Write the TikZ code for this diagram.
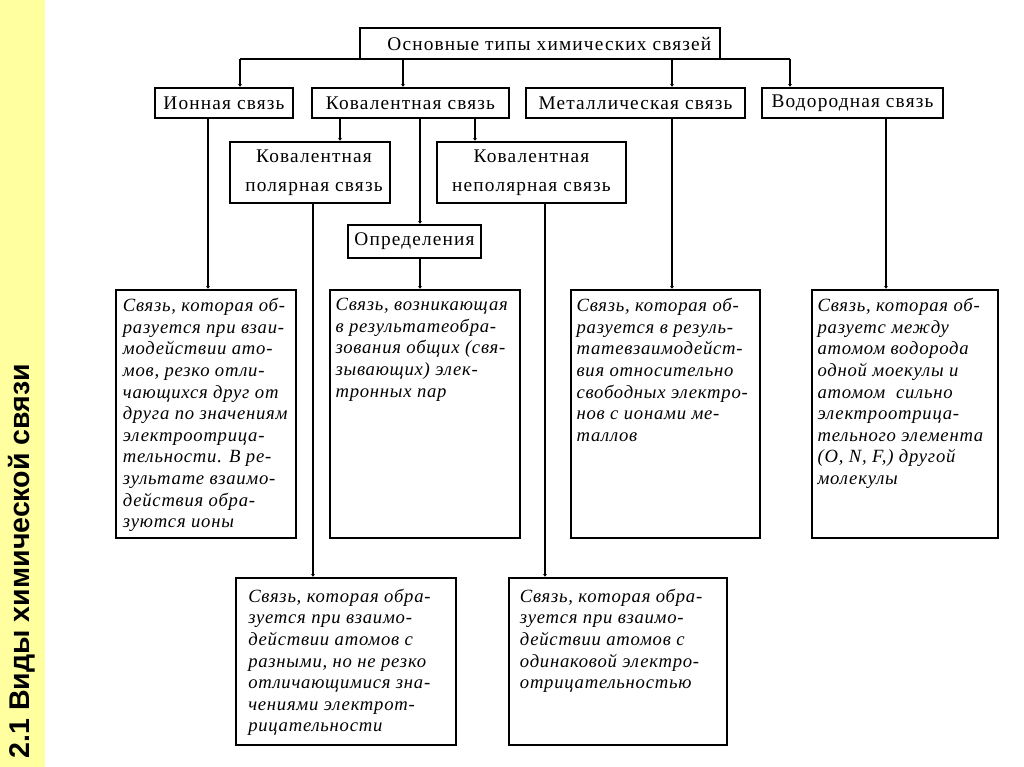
\documentclass[tikz,border=0pt]{standalone}
\usepackage{fontspec}
\setmainfont{Liberation Serif}
\newfontfamily\titlefont{Liberation Sans}
\newfontfamily\hfont[LetterSpace=6]{Liberation Serif}
\newfontfamily\ifont[LetterSpace=4]{Liberation Serif}
\usetikzlibrary{arrows.meta}
\definecolor{stripcol}{RGB}{255,255,160}
\begin{document}
\begin{tikzpicture}[x=0.75pt,y=-0.75pt,
  box/.style={draw=black, line width=2pt, inner sep=0pt, fill=white},
  sz/.style 2 args={minimum width=#1*0.75pt, minimum height=#2*0.75pt},
  hbox/.style={box, font=\hfont\fontsize{14.5}{21.5}\selectfont, align=center},
  desc/.style={anchor=north west, inner sep=0pt, align=left, font=\ifont\itshape\fontsize{14}{16.2}\selectfont},
  wire/.style={line width=2pt},
  tip/.style={wire, -{Stealth[length=2pt,width=3pt]}}]
\useasboundingbox (0,0) rectangle (1024,767);
\fill[white] (0,0) rectangle (1024,767);
\fill[stripcol] (0,0) rectangle (45,767);
\node[rotate=90, font=\titlefont\bfseries\fontsize{21.4}{26}\selectfont] (title) at (22,561) {2.1 Виды химической связи};

% top
\node[hbox, sz={360}{31}] (top) at (540,43.5) {\hspace*{14pt}Основные типы химических связей};
% level 2
\node[hbox, sz={138}{30}] (ion) at (224,103) {Ионная связь};
\node[hbox, sz={197}{30}] (cov) at (410.5,103) {Ковалентная связь};
\node[hbox, sz={219}{30}] (met) at (635.5,103) {Металлическая связь};
\node[hbox, sz={181}{30}] (hyd) at (852.5,103) {Водородная связь};
% level 3
\node[hbox, sz={160}{61}] (pol) at (310,172.5) {\hspace*{6pt}Ковалентная\\\hspace*{6pt}полярная связь};
\node[hbox, sz={189}{61}] (npol) at (531.5,172.5) {Ковалентная\\неполярная связь};
\node[hbox, sz={133}{33}] (def) at (414.5,241.5) {Определения};
% big boxes
\node[box, sz={180}{248}] (b1) at (206,414) {};
\node[box, sz={190}{248}] (b2) at (425,414) {};
\node[box, sz={189}{248}] (b3) at (665.5,414) {};
\node[box, sz={186}{248}] (b4) at (905,414) {};
\node[box, sz={220}{167}] (b5) at (346,661.5) {};
\node[box, sz={218}{167}] (b6) at (618,661.5) {};

\node[desc] (t1) at ([xshift=6pt,yshift=-7pt]b1.north west) {Связь, которая об-\\разуется при взаи-\\модействии ато-\\мов, резко отли-\\чающихся друг от\\друга по значениям\\электроотрица-\\тельности. В ре-\\зультате взаимо-\\действия обра-\\зуются ионы};
\node[desc] (t2) at ([xshift=5pt,yshift=-7pt]b2.north west) {Связь, возникающая\\в результатеобра-\\зования общих (свя-\\зывающих) элек-\\тронных пар};
\node[desc] (t3) at ([xshift=5pt,yshift=-7pt]b3.north west) {Связь, которая об-\\разуется в резуль-\\татевзаимодейст-\\вия относительно\\свободных электро-\\нов с ионами ме-\\таллов};
\node[desc] (t4) at ([xshift=5pt,yshift=-7pt]b4.north west) {Связь, которая об-\\разуетс между\\атомом водорода\\одной моекулы и\\атомом~~сильно\\электроотрица-\\тельного элемента\\(O, N, F,) другой\\молекулы};
\node[desc] (t5) at ([xshift=10pt,yshift=-9pt]b5.north west) {Связь, которая обра-\\зуется при взаимо-\\действии атомов с\\разными, но не резко\\отличающимися зна-\\чениями электрот-\\рицательности};
\node[desc] (t6) at ([xshift=9pt,yshift=-9pt]b6.north west) {Связь, которая обра-\\зуется при взаимо-\\действии атомов с\\одинаковой электро-\\отрицательностью};

% connectors
\coordinate (busL) at (240,59);
\coordinate (busR) at (790,59);
\coordinate (bC) at (403,59);
\coordinate (bM) at (672,59);
\draw[wire] (busL) -- (busR);
\draw[tip] (busL) -- (busL |- ion.north);
\draw[tip] (busR) -- (busR |- hyd.north);
\draw[tip] (bC) -- (bC |- cov.north);
\draw[tip] (bM) -- (bM |- met.north);
\coordinate (c1) at (340,0);
\coordinate (c2) at (420,0);
\coordinate (c3) at (475,0);
\draw[tip] (c1 |- cov.south) -- (c1 |- pol.north);
\draw[tip] (c2 |- cov.south) -- (c2 |- def.north);
\draw[tip] (c3 |- cov.south) -- (c3 |- npol.north);
\coordinate (v1) at (208,0);
\coordinate (v2) at (420,0);
\coordinate (v3) at (672,0);
\coordinate (v4) at (886,0);
\coordinate (v5) at (313,0);
\coordinate (v6) at (545,0);
\draw[tip] (v1 |- ion.south) -- (v1 |- b1.north);
\draw[tip] (v2 |- def.south) -- (v2 |- b2.north);
\draw[tip] (v3 |- met.south) -- (v3 |- b3.north);
\draw[tip] (v4 |- hyd.south) -- (v4 |- b4.north);
\draw[tip] (v5 |- pol.south) -- (v5 |- b5.north);
\draw[tip] (v6 |- npol.south) -- (v6 |- b6.north);
\end{tikzpicture}
\end{document}
